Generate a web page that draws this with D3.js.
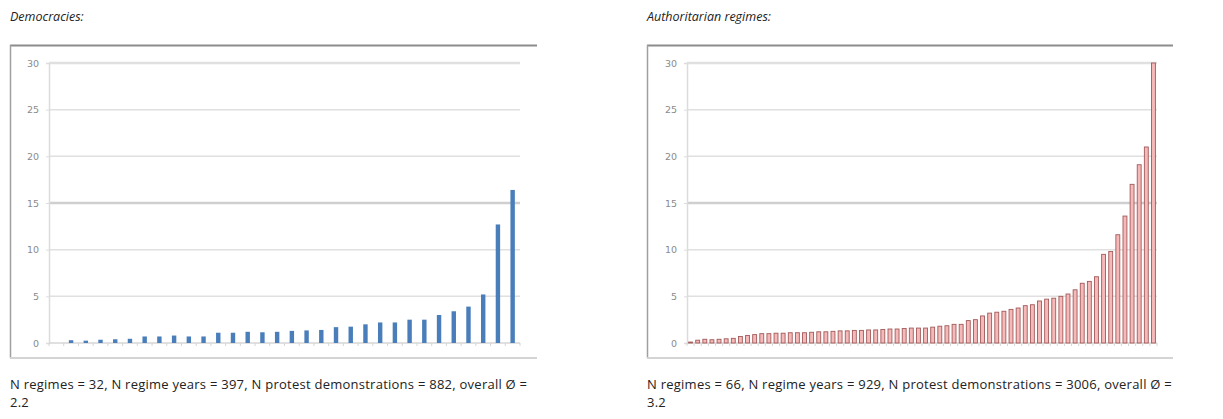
<!DOCTYPE html>
<html>
<head>
<meta charset="utf-8">
<script src="https://cdn.jsdelivr.net/npm/d3@7"></script>
<style>
  body { margin: 0; background: #fff; }
  svg { display: block; }
  .title { font-family: "Open Sans", sans-serif; font-style: italic; font-size: 12.5px; fill: #222; }
  .note { font-family: "Open Sans", sans-serif; font-size: 13px; letter-spacing: 0.25px; fill: #222; }
  .tick text { font-family: "DejaVu Sans", sans-serif; font-size: 9.5px; fill: #8a8a8a; }
</style>
</head>
<body>
<svg id="chart" width="1223" height="419"></svg>
<script>
// protest demonstrations per regime year, sorted ascending
const democracyValues = [0, 0.3, 0.25, 0.35, 0.4, 0.45, 0.7, 0.7, 0.8, 0.7, 0.7, 1.1, 1.1, 1.2, 1.15, 1.2,
  1.3, 1.35, 1.4, 1.7, 1.75, 2.0, 2.2, 2.2, 2.5, 2.5, 3.0, 3.4, 3.9, 5.2, 12.7, 16.4];

const autocracyValues = [0.1, 0.3, 0.4, 0.35, 0.4, 0.45, 0.5, 0.7, 0.8, 0.9, 1.0, 1.0, 1.05, 1.05, 1.1,
  1.1, 1.1, 1.15, 1.2, 1.2, 1.25, 1.3, 1.3, 1.35, 1.35, 1.4, 1.4, 1.45, 1.5, 1.5,
  1.55, 1.6, 1.6, 1.6, 1.7, 1.8, 1.85, 2.0, 2.0, 2.4, 2.5, 2.9, 3.2, 3.3, 3.4, 3.6,
  3.75, 4.0, 4.1, 4.5, 4.7, 4.8, 5.0, 5.25, 5.7, 6.4, 6.6, 7.1, 9.5, 9.8, 11.6, 13.6,
  17.0, 19.1, 21.0, 30.0];

const yTicks = [0, 5, 10, 15, 20, 25, 30];
const titles = ["Democracies:", "Authoritarian regimes:"];
const notes = [
  ["N regimes = 32, N regime years = 397, N protest demonstrations = 882, overall \u00D8 =", "2.2"],
  ["N regimes = 66, N regime years = 929, N protest demonstrations = 3006, overall \u00D8 =", "3.2"]
];

const svg = d3.select("#chart");

function drawPanel(cfg, values, title, note) {
  const g = svg.append("g").attr("transform", `translate(${cfg.left},0)`);

  g.append("text").attr("class", "title").attr("x", 0).attr("y", 21).text(title);

  // frame of the pasted excel picture
  const box = {x: 0, y: 45, w: cfg.boxWidth, h: 313};
  g.append("rect").attr("x", box.x).attr("y", box.y).attr("width", box.w).attr("height", box.h)
    .attr("fill", "#fff");
  g.append("line").attr("x1", box.x).attr("x2", box.x + box.w).attr("y1", box.y + 0.5).attr("y2", box.y + 0.5)
    .attr("stroke", "#8c8c8c").attr("stroke-width", 2);
  g.append("line").attr("x1", box.x + 0.5).attr("x2", box.x + 0.5).attr("y1", box.y).attr("y2", box.y + box.h)
    .attr("stroke", "#a0a0a0").attr("stroke-width", 1.5);
  g.append("line").attr("x1", box.x).attr("x2", box.x + box.w).attr("y1", box.y + box.h).attr("y2", box.y + box.h)
    .attr("stroke", "#d4d4d4").attr("stroke-width", 2);

  const x = d3.scaleBand()
    .domain(d3.range(values.length))
    .range([cfg.plotLeft, cfg.plotRight])
    .paddingInner(cfg.pad).paddingOuter(cfg.pad / 2);

  const y = d3.scaleLinear().domain([0, 30]).range([343, 63]);

  // gridlines
  g.append("g").selectAll("line")
    .data(yTicks.slice(1))
    .join("line")
      .attr("x1", cfg.plotLeft).attr("x2", cfg.plotRight)
      .attr("y1", d => y(d)).attr("y2", d => y(d))
      .attr("stroke", d => d === 15 ? "#cfcfcf" : "#e0e0e0")
      .attr("stroke-width", d => d === 15 || d === 30 ? 2.5 : 1.5);

  // y axis
  const yAxis = g.append("g")
    .attr("transform", `translate(${cfg.plotLeft},0)`)
    .call(d3.axisLeft(y).tickValues(yTicks).tickSize(3).tickPadding(7));
  yAxis.select(".domain").attr("stroke", "#dcdcdc").attr("stroke-width", 1.5);
  yAxis.selectAll(".tick line").attr("stroke", "#dcdcdc");

  // baseline with small category ticks
  g.append("line").attr("x1", cfg.plotLeft).attr("x2", cfg.plotRight)
    .attr("y1", y(0)).attr("y2", y(0)).attr("stroke", "#d6d6d6").attr("stroke-width", 1.5);
  g.append("g").selectAll("line")
    .data(d3.range(values.length + 1))
    .join("line")
      .attr("x1", i => cfg.plotLeft + i * x.step()).attr("x2", i => cfg.plotLeft + i * x.step())
      .attr("y1", y(0)).attr("y2", y(0) + 3)
      .attr("stroke", "#d6d6d6");

  g.append("g").selectAll("rect")
    .data(values)
    .join("rect")
      .attr("x", (d, i) => x(i))
      .attr("y", d => y(d))
      .attr("width", x.bandwidth())
      .attr("height", d => y(0) - y(d))
      .attr("fill", cfg.fill)
      .attr("stroke", cfg.stroke)
      .attr("stroke-width", cfg.strokeWidth);

  g.append("text").attr("class", "note").attr("x", 0).attr("y", 389).text(note[0]);
  g.append("text").attr("class", "note").attr("x", 0).attr("y", 407).text(note[1]);
}

drawPanel({left: 10, boxWidth: 527, plotLeft: 39, plotRight: 510, pad: 0.7,
  fill: "#4a7ebb", stroke: "none", strokeWidth: 0}, democracyValues, titles[0], notes[0]);

drawPanel({left: 647, boxWidth: 526, plotLeft: 40, plotRight: 510, pad: 0.45,
  fill: "#f6b9b9", stroke: "#a25a5a", strokeWidth: 0.9}, autocracyValues, titles[1], notes[1]);
</script>
</body>
</html>
